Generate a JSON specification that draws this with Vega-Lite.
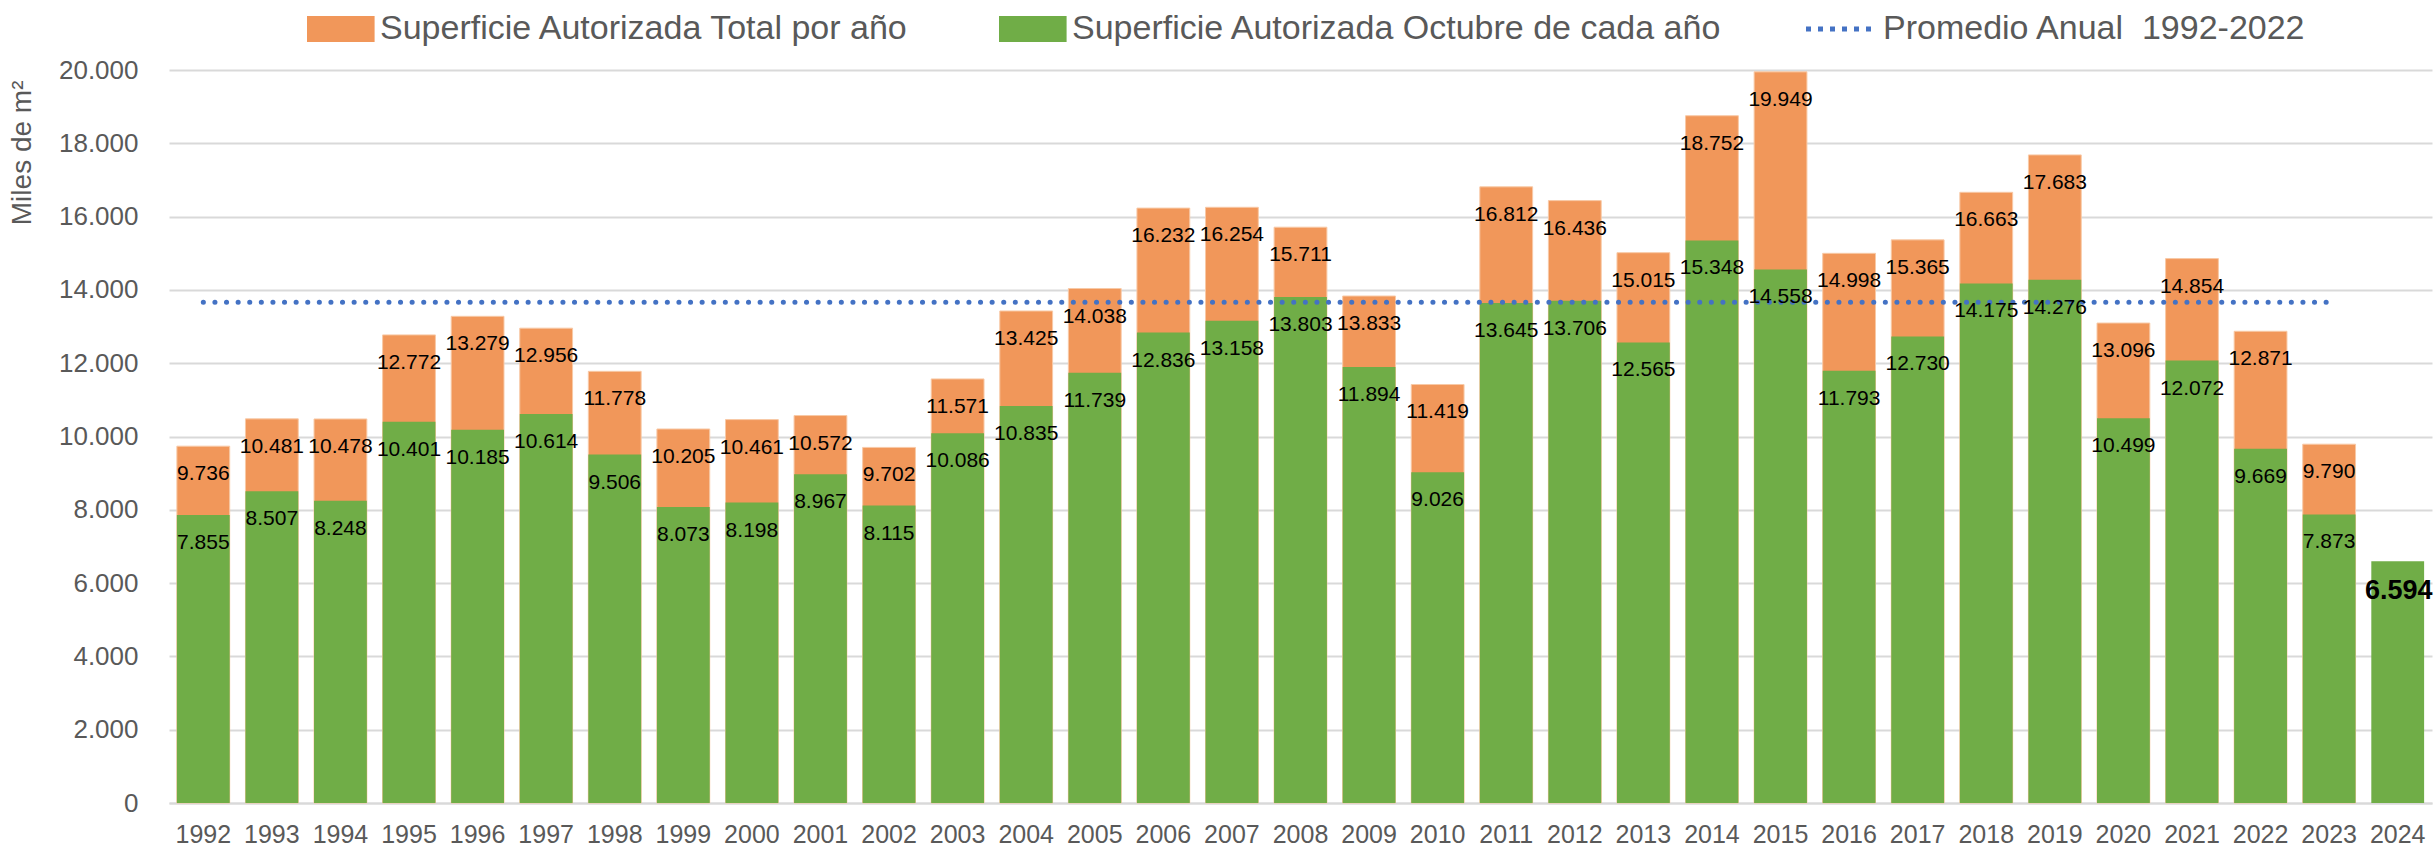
{
  "$schema": "https://vega.github.io/schema/vega-lite/v6.json",
  "autosize": {"type": "none"},
  "padding": {"left": 169, "top": 70, "right": 3, "bottom": 48},
  "width": 2263,
  "height": 733,
  "config": {
    "locale": {"number": {"decimal": ",", "thousands": ".", "grouping": [3], "currency": ["", " €"]}},
    "font": "Liberation Sans",
    "view": {"stroke": null},
    "axis": {"labelFont": "Liberation Sans", "titleFont": "Liberation Sans"}
  },
  "datasets": {
    "anual": [
      {"anio": "1992", "total": 9736, "octubre": 7855},
      {"anio": "1993", "total": 10481, "octubre": 8507},
      {"anio": "1994", "total": 10478, "octubre": 8248},
      {"anio": "1995", "total": 12772, "octubre": 10401},
      {"anio": "1996", "total": 13279, "octubre": 10185},
      {"anio": "1997", "total": 12956, "octubre": 10614},
      {"anio": "1998", "total": 11778, "octubre": 9506},
      {"anio": "1999", "total": 10205, "octubre": 8073},
      {"anio": "2000", "total": 10461, "octubre": 8198},
      {"anio": "2001", "total": 10572, "octubre": 8967},
      {"anio": "2002", "total": 9702, "octubre": 8115},
      {"anio": "2003", "total": 11571, "octubre": 10086},
      {"anio": "2004", "total": 13425, "octubre": 10835},
      {"anio": "2005", "total": 14038, "octubre": 11739},
      {"anio": "2006", "total": 16232, "octubre": 12836},
      {"anio": "2007", "total": 16254, "octubre": 13158},
      {"anio": "2008", "total": 15711, "octubre": 13803},
      {"anio": "2009", "total": 13833, "octubre": 11894},
      {"anio": "2010", "total": 11419, "octubre": 9026},
      {"anio": "2011", "total": 16812, "octubre": 13645},
      {"anio": "2012", "total": 16436, "octubre": 13706},
      {"anio": "2013", "total": 15015, "octubre": 12565},
      {"anio": "2014", "total": 18752, "octubre": 15348},
      {"anio": "2015", "total": 19949, "octubre": 14558},
      {"anio": "2016", "total": 14998, "octubre": 11793},
      {"anio": "2017", "total": 15365, "octubre": 12730},
      {"anio": "2018", "total": 16663, "octubre": 14175},
      {"anio": "2019", "total": 17683, "octubre": 14276},
      {"anio": "2020", "total": 13096, "octubre": 10499},
      {"anio": "2021", "total": 14854, "octubre": 12072},
      {"anio": "2022", "total": 12871, "octubre": 9669},
      {"anio": "2023", "total": 9790, "octubre": 7873},
      {"anio": "2024", "total": null, "octubre": 6594, "ultimo": true}
    ],
    "promedio": [
      {"desde": "1992", "hasta": "2023", "valor": 13665, "serie": "Promedio Anual\u00a0 1992-2022"}
    ]
  },
  "data": {"name": "anual"},
  "layer": [
    {
      "mark": {"type": "bar", "stroke": "#F8C9A6", "strokeWidth": 1},
      "transform": [{"filter": "datum.total != null"}, {"calculate": "'Superficie Autorizada Total por año'", "as": "serie"}],
      "encoding": {
        "x": {"field": "anio", "type": "ordinal", "sort": null,
          "scale": {"paddingInner": 0.23, "paddingOuter": 0.115},
          "axis": {"title": null, "labelAngle": 0, "labelFontSize": 25, "labelColor": "#595959", "labelPadding": 19,
            "ticks": false, "domainColor": "#D9D9D9", "domainWidth": 2}},
        "y": {"field": "total", "type": "quantitative",
          "scale": {"domain": [0, 20000], "nice": false},
          "axis": {"title": "Miles de m²", "titleFontSize": 28, "titleFontWeight": "normal", "titleColor": "#595959",
            "titleAnchor": "end", "titleAlign": "right", "titleY": 10, "titlePadding": 22,
            "values": [0, 2000, 4000, 6000, 8000, 10000, 12000, 14000, 16000, 18000, 20000],
            "format": ",d", "labelFontSize": 26, "labelColor": "#595959", "labelPadding": 31,
            "ticks": false, "domain": false, "gridColor": "#D9D9D9", "gridWidth": 2}},
        "color": {"field": "serie", "type": "nominal",
          "scale": {"domain": ["Superficie Autorizada Total por año", "Superficie Autorizada Octubre de cada año"],
            "range": ["#F1975A", "#70AD47"]},
          "legend": {"title": null, "orient": "none", "legendX": 134, "legendY": -58, "direction": "horizontal",
            "labelFontSize": 34, "labelColor": "#595959", "labelFont": "Liberation Sans",
            "symbolType": "M-1,-1H4.2V1H-1Z", "symbolSize": 676, "symbolStrokeWidth": 0,
            "labelOffset": 43, "columnPadding": 85, "labelLimit": 800}}
      }
    },
    {
      "mark": {"type": "bar"},
      "transform": [{"calculate": "'Superficie Autorizada Octubre de cada año'", "as": "serie"}],
      "encoding": {
        "x": {"field": "anio", "type": "ordinal", "sort": null},
        "y": {"field": "octubre", "type": "quantitative"},
        "color": {"field": "serie", "type": "nominal"}
      }
    },
    {
      "data": {"name": "promedio"},
      "mark": {"type": "rule", "color": "#4472C4", "strokeWidth": 5, "strokeDash": [0.1, 11.5], "strokeCap": "round"},
      "encoding": {
        "x": {"field": "desde", "type": "ordinal", "sort": null},
        "x2": {"field": "hasta"},
        "y": {"field": "valor", "type": "quantitative"},
        "opacity": {"field": "serie", "type": "nominal",
          "scale": {"domain": ["Promedio Anual\u00a0 1992-2022"], "range": [1]},
          "legend": {"title": null, "orient": "none", "legendX": 1633, "legendY": -58, "direction": "horizontal",
            "labelFontSize": 34, "labelColor": "#595959", "labelFont": "Liberation Sans",
            "symbolType": "M-1,0H4.2", "symbolSize": 676, "symbolStrokeWidth": 5,
            "symbolStrokeColor": "#4472C4", "symbolFillColor": "transparent", "symbolDash": [5, 7],
            "labelOffset": 47, "labelLimit": 800}}
      }
    },
    {
      "mark": {"type": "text", "baseline": "middle", "dy": 28, "fontSize": 21, "color": "#000000", "font": "Liberation Sans"},
      "transform": [{"filter": "datum.total != null"}],
      "encoding": {
        "x": {"field": "anio", "type": "ordinal", "sort": null},
        "y": {"field": "total", "type": "quantitative"},
        "text": {"field": "total", "type": "quantitative", "format": ",d"}
      }
    },
    {
      "mark": {"type": "text", "baseline": "middle", "dy": 28, "fontSize": 21, "color": "#000000", "font": "Liberation Sans"},
      "transform": [{"filter": "datum.ultimo != true"}],
      "encoding": {
        "x": {"field": "anio", "type": "ordinal", "sort": null},
        "y": {"field": "octubre", "type": "quantitative"},
        "text": {"field": "octubre", "type": "quantitative", "format": ",d"}
      }
    },
    {
      "mark": {"type": "text", "baseline": "middle", "dy": 30, "dx": 1, "fontSize": 27, "fontWeight": "bold", "color": "#000000", "font": "Liberation Sans"},
      "transform": [{"filter": "datum.ultimo == true"}],
      "encoding": {
        "x": {"field": "anio", "type": "ordinal", "sort": null},
        "y": {"field": "octubre", "type": "quantitative"},
        "text": {"field": "octubre", "type": "quantitative", "format": ",d"}
      }
    }
  ]
}
